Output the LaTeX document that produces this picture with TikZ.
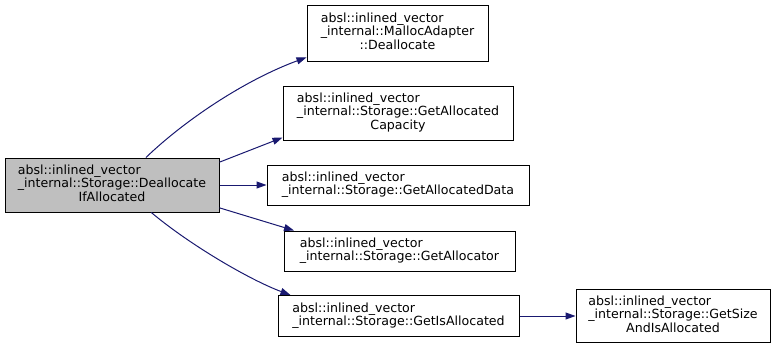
\documentclass[tikz,border=0pt]{standalone}
\usepackage{fontspec}
\setmainfont{DejaVu Sans}
\usetikzlibrary{arrows.meta}
\newcommand{\fnthree}[3]{\begin{tabular}{@{}l@{}}#1\\#2\\\multicolumn{1}{@{}c@{}}{#3}\end{tabular}}
\newcommand{\fntwo}[2]{\begin{tabular}{@{}l@{}}#1\\#2\end{tabular}}

\begin{document}
\begin{tikzpicture}[x=1pt,y=-1pt,
    fn/.style={draw=black, line width=1pt, fill=white, inner sep=0pt,
      font=\fontsize{12.6}{13.2}\selectfont},
    edge/.style={draw={rgb,255:red,25;green,25;blue,112}, line width=1pt,
      -{Triangle[length=10pt,width=7pt]}}]
    \useasboundingbox (0,0) rectangle (776,351);
                \node[fn, fill={rgb,255:red,191;green,191;blue,191}, minimum width=214pt, minimum height=54pt] (main) at (112,185)
                  {\fnthree{absl::inlined\_vector}{\_internal::Storage::Deallocate}{IfAllocated}};
                \node[fn, minimum width=181pt, minimum height=56pt] (deallocate) at (397.5,33)
                  {\fnthree{absl::inlined\_vector}{\_internal::MallocAdapter}{::Deallocate}};
                \node[fn, minimum width=230pt, minimum height=54pt] (capacity) at (398,113)
                  {\fnthree{absl::inlined\_vector}{\_internal::Storage::GetAllocated}{Capacity}};
                \node[fn, minimum width=262pt, minimum height=40pt] (data) at (398,185)
                  {\fntwo{absl::inlined\_vector}{\_internal::Storage::GetAllocatedData}};
                \node[fn, minimum width=231pt, minimum height=40pt] (allocator) at (399.5,251)
                  {\fntwo{absl::inlined\_vector}{\_internal::Storage::GetAllocator}};
                \node[fn, minimum width=241pt, minimum height=41pt] (isallocated) at (398.5,316)
                  {\fntwo{absl::inlined\_vector}{\_internal::Storage::GetIsAllocated}};
                \node[fn, minimum width=194pt, minimum height=53pt] (sizealloc) at (673,316)
                  {\fnthree{absl::inlined\_vector}{\_internal::Storage::GetSize}{AndIsAllocated}};
                \draw[edge] (main.39) .. controls (185,120) and (245,80) .. (deallocate.195);
                \draw[edge] (main.12) -- (capacity.192);
                \draw[edge] (main.east) -- (data.west);
                \draw[edge] (main.-12) -- (allocator.169);
                \draw[edge] (main.-35) .. controls (190,245) and (250,280) .. (isallocated.169);
                \draw[edge] (isallocated.east) -- (sizealloc.west);
            \end{tikzpicture}
\end{document}
